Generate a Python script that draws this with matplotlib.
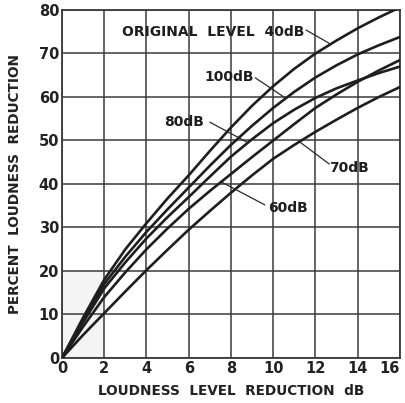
#!/usr/bin/env python3
"""
Percent loudness reduction vs loudness level reduction, by original level
"""

import matplotlib
matplotlib.use('Agg')
import matplotlib.pyplot as plt
from matplotlib.patches import Rectangle

plt.rcParams['font.family'] = ['DejaVu Sans']

# loudness level reduction (dB)
level_reduction = [0, 1, 2, 3, 4, 5, 6, 7, 8, 9, 10, 11, 12, 13, 14, 15, 16]

# percent loudness reduction for each original level
reduction_40db = [0, 9.3, 18, 25, 31, 36.7, 42, 47.6, 53, 58, 62.5, 66.5, 70, 73, 75.8, 78.3, 80.6]
reduction_100db = [0, 8.7, 17, 23.3, 29, 34.2, 39.2, 44.2, 49, 53.4, 57.5, 61.2, 64.5, 67.3, 69.8, 71.9, 73.8]
reduction_80db = [0, 8.2, 16, 22, 27.5, 32.4, 37, 41.7, 46.3, 50.3, 54, 57.1, 59.8, 62, 63.8, 65.5, 67]
reduction_60db = [0, 7.2, 14, 19.7, 25, 29.8, 34.3, 38.4, 42.3, 46.2, 50, 53.8, 57.5, 60.6, 63.5, 66.1, 68.5]
reduction_70db = [0, 5.3, 10.3, 15.3, 20.2, 24.9, 29.5, 33.8, 38, 42, 45.8, 49, 52, 54.8, 57.5, 60, 62.3]

x_ticks = [0, 2, 4, 6, 8, 10, 12, 14, 16]
x_tick_labels = ['0', '2', '4', '6', '8', '10', '12', '14', '16']
y_ticks = [0, 10, 20, 30, 40, 50, 60, 70, 80]


def create_chart():
    fig = plt.figure(figsize=(4.06, 4.03), dpi=100)
    ax = fig.add_axes([0.1527, 0.1117, 0.8325, 0.8635])

    ax.set_xlim(0, 16)
    ax.set_ylim(0, 80)

    # faint grey patch near the origin
    ax.add_patch(Rectangle((0, 0), 2, 20, facecolor='#f4f4f4', edgecolor='none', zorder=0))

    # heavy ruled grid
    ax.set_xticks(x_ticks)
    ax.set_xticklabels(x_tick_labels)
    ax.set_yticks(y_ticks)
    ax.grid(True, color='#3a3a3a', linewidth=1.1, zorder=1)
    for s in ax.spines.values():
        s.set_color('#3a3a3a')
        s.set_linewidth(1.3)
    ax.tick_params(length=0, labelsize=10.5, colors='#222222', pad=2)
    for lab in ax.get_xticklabels() + ax.get_yticklabels():
        lab.set_fontweight('bold')
    # last x label sits flush with the right edge
    ax.get_xticklabels()[-1].set_horizontalalignment('right')

    curves = [reduction_40db, reduction_100db, reduction_80db, reduction_60db, reduction_70db]
    for ys in curves:
        ax.plot(level_reduction, ys, color='#1e1e1e', linewidth=1.9, zorder=3,
                solid_capstyle='round')

    # curve labels with leader lines
    txt = dict(fontsize=10, fontweight='bold', color='#1e1e1e', zorder=4)
    lead = dict(arrowstyle='-', color='#2a2a2a', linewidth=0.9, shrinkA=0, shrinkB=0)

    ax.text(7.15, 75.0, 'ORIGINAL  LEVEL  40dB', ha='center', va='center', **txt)
    ax.annotate('', xy=(12.7, 72.2), xytext=(11.55, 75.4), arrowprops=lead)

    ax.text(7.9, 64.6, '100dB', ha='center', va='center', **txt)
    ax.annotate('', xy=(10.6, 59.7), xytext=(9.15, 64.4), arrowprops=lead)

    ax.text(5.8, 54.3, '80dB', ha='center', va='center', **txt)
    ax.annotate('', xy=(8.8, 49.5), xytext=(7.0, 54.2), arrowprops=lead)

    ax.text(13.6, 43.7, '70dB', ha='center', va='center', **txt)
    ax.annotate('', xy=(11.27, 49.6), xytext=(12.65, 44.6), arrowprops=lead)

    ax.text(10.7, 34.4, '60dB', ha='center', va='center', **txt)
    ax.annotate('', xy=(7.57, 40.4), xytext=(9.6, 35.2), arrowprops=lead)

    ax.set_xlabel('LOUDNESS  LEVEL  REDUCTION  dB', fontsize=9.8, fontweight='bold',
                  color='#222222', labelpad=6)
    ax.set_ylabel('PERCENT  LOUDNESS  REDUCTION', fontsize=9.8, fontweight='bold',
                  color='#222222', labelpad=12)

    plt.savefig('out.png', dpi=100)


if __name__ == "__main__":
    create_chart()
